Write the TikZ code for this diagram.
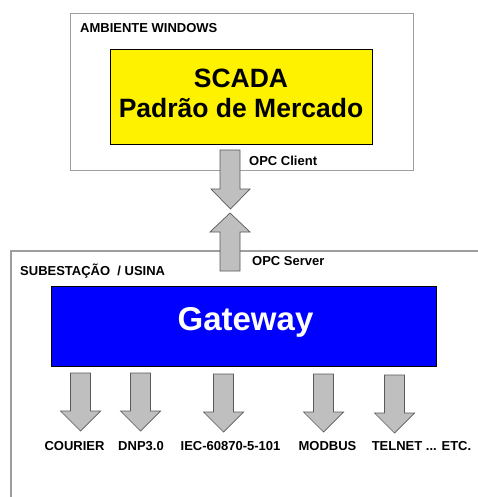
\documentclass[tikz,border=0pt]{standalone}
\usepackage{fontspec}
\setmainfont{Liberation Sans}
\begin{document}
\begin{tikzpicture}[x=1pt,y=-1pt,
  frame/.style={draw=black!38, line width=1.4pt},
  lbl/.style={font=\fontsize{13}{15}\selectfont\bfseries, inner sep=0pt},
  fatarrow/.style={fill=black!25, draw=black!65, line width=0.7pt, line join=miter},
]
\useasboundingbox (0,0) rectangle (478,497);
\fill[white] (0,0) rectangle (478,497);

% Windows environment frame
\node[frame, minimum width=343, minimum height=157, anchor=north west, inner sep=0pt] (win) at (70,13) {};
\node[lbl, anchor=west] (winlbl) at (80,28) {AMBIENTE WINDOWS};

% SCADA box
\node[draw=black, line width=0.8pt, fill=yellow, minimum width=262, minimum height=95, anchor=north west, inner sep=0pt] (scada) at (110,49) {};
\node[font=\fontsize{26.5}{30}\selectfont\bfseries, inner sep=0pt] (t1) at (241,78) {SCADA};
\node[font=\fontsize{26.5}{30}\selectfont\bfseries, inner sep=0pt] (t2) at (241,108) {Padrão de Mercado};

% Substation frame (runs past the page edges)
\draw[frame] (480,251) -- (11,251) -- (11,499);
\node[lbl, anchor=west] (sublbl) at (20,271) {SUBESTAÇÃO \ / USINA};

% Gateway box
\node[draw=black, line width=0.8pt, fill={rgb,255:red,0;green,0;blue,255}, minimum width=385, minimum height=80, anchor=north west, inner sep=0pt] (gw) at (51,286) {};
\node[font=\fontsize{33}{36}\selectfont\bfseries, text=white, inner sep=0pt] (gwt) at (245.5,322) {Gateway};

% OPC client arrow (down) and server arrow (up)
\draw[fatarrow] (220,150) -- (240,150) -- (240,189) -- (250,189) -- (230.5,209) -- (211,189) -- (220,189) -- cycle;
\draw[fatarrow] (220,271) -- (240,271) -- (240,232) -- (250,232) -- (230,213) -- (210,232) -- (220,232) -- cycle;
\node[lbl, anchor=west] (cli) at (249,161) {OPC Client};
\node[lbl, anchor=west] (srv) at (252,261) {OPC Server};

% Protocol arrows
\foreach \cx/\ty/\tip/\name in {80.5/373/431/a1, 140.5/373/431/a2, 223.5/374/432/a3, 323.5/374/432/a4, 394.5/375/433/a5}{
  \draw[fatarrow] (\cx-10,\ty) -- (\cx+10,\ty) -- (\cx+10,\tip-20) -- (\cx+20,\tip-20) -- (\cx,\tip) -- (\cx-20,\tip-20) -- (\cx-10,\tip-20) -- cycle;
}
\node[lbl] (p1) at (74.5,446) {COURIER};
\node[lbl] (p2) at (141,446) {DNP3.0};
\node[lbl] (p3) at (230.5,446) {IEC-60870-5-101};
\node[lbl] (p4) at (327.5,446) {MODBUS};
\node[lbl] (p5) at (421.5,446) {TELNET ... ETC.};
\end{tikzpicture}
\end{document}
